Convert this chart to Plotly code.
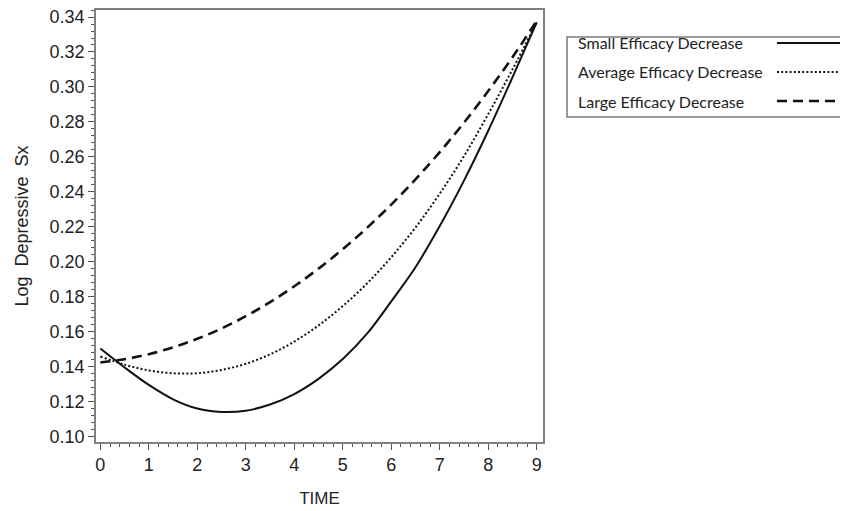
import plotly.graph_objects as go

time = [0, 0.5, 1, 1.5, 2, 2.5, 3, 3.5, 4, 4.5, 5, 5.5, 6, 6.5, 7, 7.5, 8, 8.5, 9]
small = [0.1505, 0.1397, 0.1297, 0.1215, 0.1162, 0.1143, 0.1150, 0.1185, 0.1245, 0.1332,
         0.1445, 0.1590, 0.1775, 0.1970, 0.2205, 0.2465, 0.2750, 0.3055, 0.3370]
average = [0.1460, 0.1413, 0.1380, 0.1364, 0.1364, 0.1383, 0.1418, 0.1472, 0.1545, 0.1637,
           0.1748, 0.1877, 0.2027, 0.2197, 0.2390, 0.2605, 0.2845, 0.3100, 0.3370]
large = [0.1425, 0.1444, 0.1473, 0.1512, 0.1561, 0.1620, 0.1690, 0.1770, 0.1861, 0.1962,
         0.2073, 0.2195, 0.2328, 0.2472, 0.2628, 0.2796, 0.2977, 0.3170, 0.3378]

series_names = ["Small Efficacy Decrease", "Average Efficacy Decrease", "Large Efficacy Decrease"]
series_values = [small, average, large]
dash_styles = ["solid", "2px,2.2px", "10px,6px"]
widths = [2, 2, 2.6]

y_ticks = [0.10, 0.12, 0.14, 0.16, 0.18, 0.20, 0.22, 0.24, 0.26, 0.28, 0.30, 0.32, 0.34]
x_ticks = [0, 1, 2, 3, 4, 5, 6, 7, 8, 9]

fig = go.Figure()
for name, vals, dsh, w in zip(series_names, series_values, dash_styles, widths):
    fig.add_trace(go.Scatter(x=time, y=vals, mode="lines", name=name, showlegend=False,
                             line=dict(color="#111111", width=w, dash=dsh, shape="spline", smoothing=1.0)))

# page body has an 8px margin, so figure coords = reference pixel - 8
OFF = 8
L, R, T, B = 96 - OFF, 543 - OFF, 10 - OFF, 442 - OFF
W, H = 848, 511
pw, ph = R - L, B - T

def px(xp):
    return (xp - OFF - L) / pw

def py(yp):
    return (B - (yp - OFF)) / ph

# custom legend (text left, line sample right)
fig.add_shape(type="rect", xref="paper", yref="paper",
              x0=px(567), x1=px(846), y0=py(117), y1=py(37),
              line=dict(color="#7a7a7a", width=1.5), fillcolor="white")
legend_y = [43, 72, 101]
for name, dsh, w, ly in zip(series_names, dash_styles, widths, legend_y):
    fig.add_annotation(xref="paper", yref="paper", x=px(576), y=py(ly), text=name,
                       showarrow=False, xanchor="left", yanchor="middle",
                       font=dict(family="Lato", size=16, color="#222222"))
    fig.add_shape(type="line", xref="paper", yref="paper",
                  x0=px(777), x1=px(843), y0=py(ly), y1=py(ly),
                  line=dict(color="#111111", width=w, dash=dsh))

axis_common = dict(
    showline=True, mirror=True, linecolor="#808080", linewidth=1.5,
    ticks="outside", ticklen=6, tickcolor="#555555", tickwidth=1.2,
    showgrid=False, zeroline=False, automargin=False, ticklabeloverflow="allow",
    tickfont=dict(family="Liberation Sans", size=18, color="#222222"),
)

fig.update_xaxes(**axis_common, range=[-0.09, 9.13], tickvals=x_ticks,
                 ticktext=[str(v) for v in x_ticks],
                 minor=dict(dtick=0.2, tick0=0, ticklen=3, tickcolor="#555555", ticks="outside"),
                 title=dict(text="TIME", standoff=18,
                            font=dict(family="Liberation Sans", size=17, color="#222222")))
fig.update_yaxes(**axis_common, range=[0.0971, 0.344], tickvals=y_ticks,
                 ticktext=[f"{v:.2f}" for v in y_ticks],
                 minor=dict(dtick=0.004, tick0=0.10, ticklen=3, tickcolor="#555555", ticks="outside"),
                 title=dict(text="Log  Depressive  Sx", standoff=16,
                            font=dict(family="Liberation Sans", size=18, color="#222222")))

fig.update_layout(width=W, height=H, margin=dict(l=L, r=W - R, t=T, b=H - B),
                  paper_bgcolor="white", plot_bgcolor="white")

fig.write_html("out.html")
